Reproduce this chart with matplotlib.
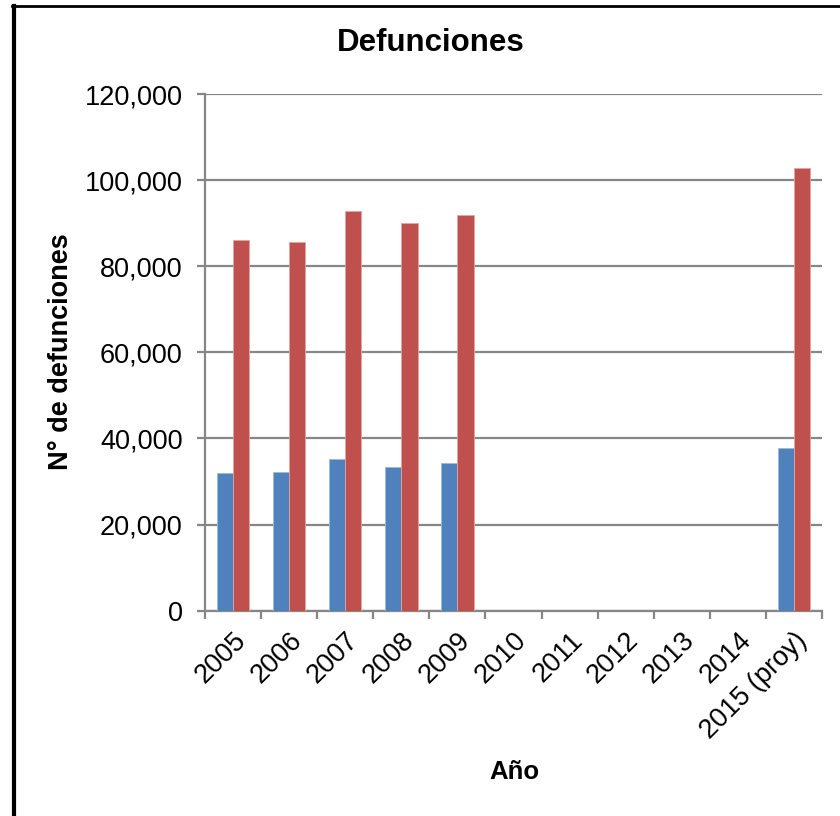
import numpy as np
import matplotlib
matplotlib.use("Agg")
import matplotlib.pyplot as plt
from matplotlib.lines import Line2D
from matplotlib.transforms import ScaledTranslation

OUTPUT_IMAGE = "out.png"

years = ["2005", "2006", "2007", "2008", "2009", "2010", "2011", "2012",
         "2013", "2014", "2015 (proy)"]
serie_azul = [31970, 32140, 35150, 33300, 34230, 0, 0, 0, 0, 0, 37850]
serie_roja = [86100, 85550, 92800, 90000, 91800, 0, 0, 0, 0, 0, 102900]
y_ticks = [0, 20000, 40000, 60000, 80000, 100000, 120000]

BLUE = "#4F81BD"
RED = "#C0504D"
GRAY = "#868686"


def main():
    plt.rcParams["font.family"] = ["Liberation Sans", "DejaVu Sans"]

    fig = plt.figure(figsize=(8.4, 8.16), dpi=100)
    ax = fig.add_axes([0.244, 0.2516, 0.7346, 0.6332])

    x = np.arange(len(years))
    w = 0.29
    azul = np.array(serie_azul, dtype=float)
    roja = np.array(serie_roja, dtype=float)
    keep = azul > 0
    ax.bar(x[keep] - w / 2, azul[keep], width=w, color=BLUE,
           edgecolor="#9fb8da", linewidth=0.6, zorder=3)
    keep = roja > 0
    ax.bar(x[keep] + w / 2, roja[keep], width=w, color=RED,
           edgecolor="#e3a3a1", linewidth=0.6, zorder=3)

    ax.set_xlim(-0.5, len(years) - 0.5)
    ax.set_ylim(0, 120000)
    ax.set_yticks(y_ticks)
    ax.set_yticklabels([f"{v:,}" for v in y_ticks], fontsize=19.5)
    ax.yaxis.grid(True, color=GRAY, linewidth=1.6, zorder=0)
    ax.set_axisbelow(True)

    # labels at category centres, tick marks at the boundaries
    ax.set_xticks(x)
    ax.set_xticklabels(years, fontsize=19.5, rotation=45, ha="right",
                       rotation_mode="anchor")
    shift = ScaledTranslation(-0.07, -0.06, fig.dpi_scale_trans)
    for lab in ax.get_xticklabels():
        lab.set_transform(lab.get_transform() + shift)
    ax.set_xticks(np.arange(len(years) + 1) - 0.5, minor=True)
    ax.tick_params(axis="x", which="major", length=0, pad=12)
    ax.tick_params(axis="x", which="minor", length=6, width=1.6,
                   color=GRAY, direction="out")
    ax.tick_params(axis="y", length=6, width=1.6, color=GRAY, pad=10)

    for side in ["top", "right"]:
        ax.spines[side].set_visible(False)
    for side in ["left", "bottom"]:
        ax.spines[side].set_color(GRAY)
        ax.spines[side].set_linewidth(1.6)

    fig.text(431 / 840, 1 - 43 / 816, "Defunciones", fontsize=22.5,
             fontweight="bold", ha="center", va="center")
    fig.text(61 / 840, 1 - 352 / 816, "N° de defunciones", fontsize=19.5,
             fontweight="bold", rotation=90, ha="center", va="center")
    fig.text(514 / 840, 1 - 772 / 816, "Año", fontsize=18.5,
             fontweight="bold", ha="center", va="center")

    # black frame on the left and top edges
    fig.add_artist(Line2D([0.0167, 0.0167], [0.0, 0.993], color="black",
                          linewidth=3.0, transform=fig.transFigure))
    fig.add_artist(Line2D([0.0145, 1.0], [0.9925, 0.9925], color="black",
                          linewidth=2.0, transform=fig.transFigure))

    fig.savefig(OUTPUT_IMAGE, dpi=100)


if __name__ == "__main__":
    main()
